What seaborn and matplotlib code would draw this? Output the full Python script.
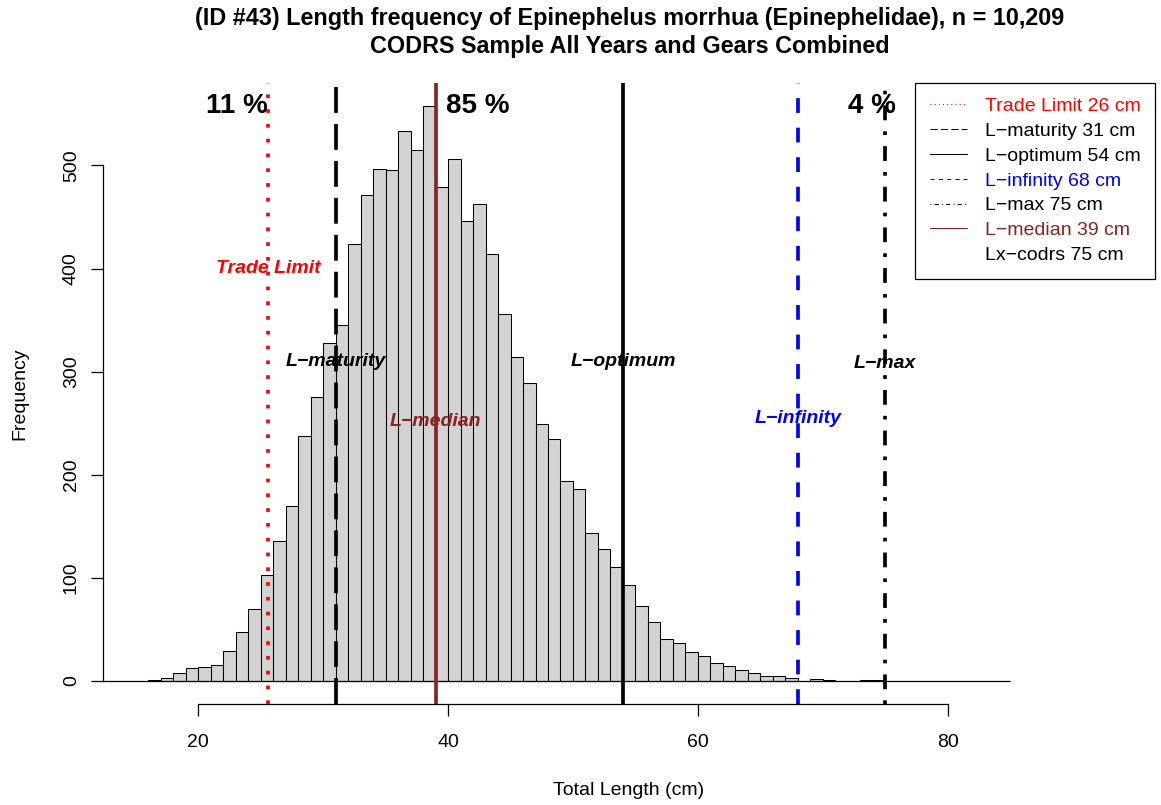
import numpy as np
import pandas as pd
import matplotlib
matplotlib.use("Agg")
import matplotlib.pyplot as plt
from matplotlib.lines import Line2D
import seaborn as sns

# bins are 1 cm wide, left edges 16..74
bin_left = list(range(16, 75))
counts = [1, 3, 8, 13, 14, 16, 29, 48, 70, 103,
          136, 170, 238, 275, 328, 345, 424, 471, 497, 496,
          533, 515, 558, 479, 506, 446, 463, 414, 356, 314,
          289, 249, 235, 194, 186, 144, 128, 111, 93, 73,
          57, 41, 37, 28, 24, 17, 15, 11, 8, 5,
          5, 3, 0, 2, 1, 0, 0, 1, 1]

# reference lengths (cm)
ref_names = ["Trade Limit", "L\u2212maturity", "L\u2212optimum", "L\u2212infinity", "L\u2212max", "L\u2212median"]
ref_values = [25.6, 31, 54, 68, 75, 39]
ref_legend = [26, 31, 54, 68, 75, 39]
ref_colors = ["#FF0000", "black", "black", "#0000FF", "black", "#8B2323"]
ref_dashes = [(1, 3), (7, 3), None, (4, 4), (1, 3, 4, 3), None]
ref_label_y = [400, 310, 310, 255, 308, 252]

pct_labels = ["11 %", "85 %", "4 %"]
pct_x = [23.05, 42.4, 73.9]
pct_y = 558

df = pd.DataFrame({"length": [b + 0.5 for b in bin_left], "n": counts})

sns.set_style("white")
plt.rcParams["font.family"] = ["Liberation Sans", "DejaVu Sans"]
plt.rcParams.update({"text.color": "black", "axes.labelcolor": "black",
                     "xtick.color": "black", "ytick.color": "black",
                     "axes.edgecolor": "black"})

fig = plt.figure(figsize=(11.61, 8.05), dpi=100)
ax = fig.add_axes([103 / 1161, 101 / 805, 1052 / 1161, 621 / 805])

sns.histplot(data=df, x="length", weights="n", binwidth=1, binrange=(16, 75),
             color="#D3D3D3", edgecolor="black", linewidth=0.75, alpha=1, ax=ax)

ax.set_xlim(12.37, 96.6)
ax.set_ylim(-22.3, 580)
ax.hlines(0, 12.37, 85, color="black", lw=0.9)

# vertical reference lines
lw = 2.66
for v, c, d in zip(ref_values, ref_colors, ref_dashes):
    if d is None:
        ax.axvline(v, color=c, lw=lw)
    else:
        ax.axvline(v, color=c, lw=lw, linestyle=(0, d))

for name, v, c, y in zip(ref_names, ref_values, ref_colors, ref_label_y):
    ax.text(v, y, name, color=c, fontsize=14, fontweight="bold", fontstyle="italic",
            ha="center", va="center")

for t, x in zip(pct_labels, pct_x):
    ax.text(x, pct_y, t, fontsize=20, fontweight="bold", ha="center", va="center")

# legend
handles = []
for c, d in zip(ref_colors, ref_dashes):
    if d is None:
        handles.append(Line2D([], [], color=c, lw=0.75))
    else:
        handles.append(Line2D([], [], color=c, lw=0.75, linestyle=(0, d)))
handles.append(Line2D([], [], color="none", lw=0.75))
leg_labels = [f"{n} {v} cm" for n, v in zip(ref_names, ref_legend)] + ["Lx\u2212codrs 75 cm"]
leg = ax.legend(handles, leg_labels, loc="upper right", bbox_to_anchor=(1, 1),
                borderaxespad=0, fontsize=14, frameon=True, fancybox=False,
                edgecolor="black", framealpha=1, borderpad=0.75, handlelength=1.9,
                handletextpad=0.93, labelspacing=0.37,
                labelcolor=ref_colors + ["black"])
leg.get_frame().set_linewidth(0.9)

# R-like axes
sns.despine(ax=ax, top=True, right=True)
ax.spines["left"].set_bounds(0, 500)
ax.spines["bottom"].set_bounds(20, 80)
ax.spines["left"].set_linewidth(0.9)
ax.spines["bottom"].set_linewidth(0.9)
ax.set_xticks([20, 40, 60, 80])
ax.set_yticks([0, 100, 200, 300, 400, 500])
ax.tick_params(axis="both", direction="out", length=8.6, width=0.9, labelsize=14,
               left=True, bottom=True)
ax.tick_params(axis="x", pad=13)
ax.tick_params(axis="y", pad=8, labelrotation=90)
for lab in ax.get_yticklabels():
    lab.set_va("center")

ax.set_xlabel("Total Length (cm)", fontsize=14)
ax.xaxis.label.set_va("center")
ax.xaxis.set_label_coords(0.5, -86 / 621)
ax.set_ylabel("Frequency", fontsize=14)
ax.yaxis.label.set_va("center")
ax.yaxis.set_label_coords(-83 / 1052, 0.5)

fig.text(630 / 1161, 1 - 18 / 805,
         "(ID #43) Length frequency of Epinephelus morrhua (Epinephelidae), n = 10,209",
         fontsize=16.8, fontweight="bold", ha="center", va="center")
fig.text(630 / 1161, 1 - 47 / 805, "CODRS Sample All Years and Gears Combined",
         fontsize=16.8, fontweight="bold", ha="center", va="center")

fig.savefig("out.png", dpi=100)
